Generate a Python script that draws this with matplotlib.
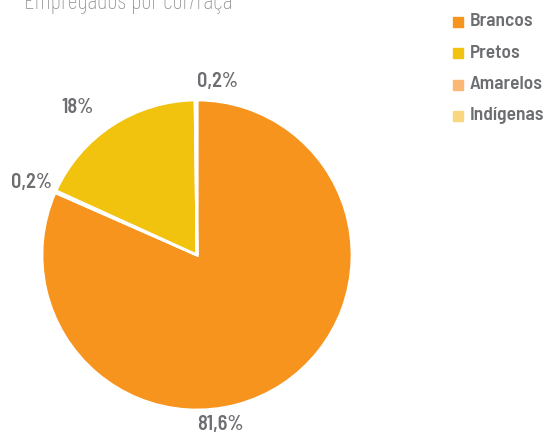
import matplotlib
matplotlib.use("Agg")
import matplotlib.pyplot as plt

# data
categories = ["Brancos", "Amarelos", "Pretos", "Indígenas"]
shares = [81.6, 0.2, 18.0, 0.2]
share_labels = ["81,6%", "0,2%", "18%", "0,2%"]
colors = ["#F7941D", "#FBB875", "#F1C20E", "#F9D77E"]
legend_order = ["Brancos", "Pretos", "Amarelos", "Indígenas"]

font = ["Barlow Semi Condensed", "Barlow Condensed", "DejaVu Sans"]
title_font = ["Barlow Condensed", "DejaVu Sans"]
gray = "#6D6E71"

W, H = 553, 436
fig = plt.figure(figsize=(W / 100, H / 100), dpi=100)

# pie axes: centre (197, 255) px, radius 155 px
cx, cy, r = 197, 255, 155
ax = fig.add_axes([(cx - r) / W, (H - cy - r) / H, 2 * r / W, 2 * r / H])
ax.pie(shares, colors=colors, startangle=90, counterclock=False, radius=1,
       wedgeprops=dict(edgecolor="white", linewidth=2))
ax.set_xlim(-1, 1)
ax.set_ylim(-1, 1)
ax.set_aspect("auto")
ax.axis("off")

# label positions in pixels of the reference
label_px = [(220, 424), (32, 182), (78, 107), (218, 81)]
for lab, (px, py) in zip(share_labels, label_px):
    ax.text((px - cx) / r, (cy - py) / r, lab, ha="center", va="center",
            fontsize=14.5, fontweight="semibold", color=gray, family=font,
            clip_on=False)

fig.text(24 / W, 1 - 3 / H, "Empregados por cor/raça", ha="left", va="center",
         fontsize=18, fontweight="light", color="#8C8C8C", family=title_font)

# legend
for i, name in enumerate(legend_order):
    y = 22 + i * 31.3
    c = colors[categories.index(name)]
    fig.patches.append(plt.Rectangle((453 / W, 1 - (y + 5) / H), 10 / W, 10 / H,
                                     transform=fig.transFigure, color=c))
    fig.text(470 / W, 1 - y / H, name, ha="left", va="center", fontsize=14,
             fontweight="semibold", color=gray, family=font)

fig.savefig("out.png", dpi=100)
